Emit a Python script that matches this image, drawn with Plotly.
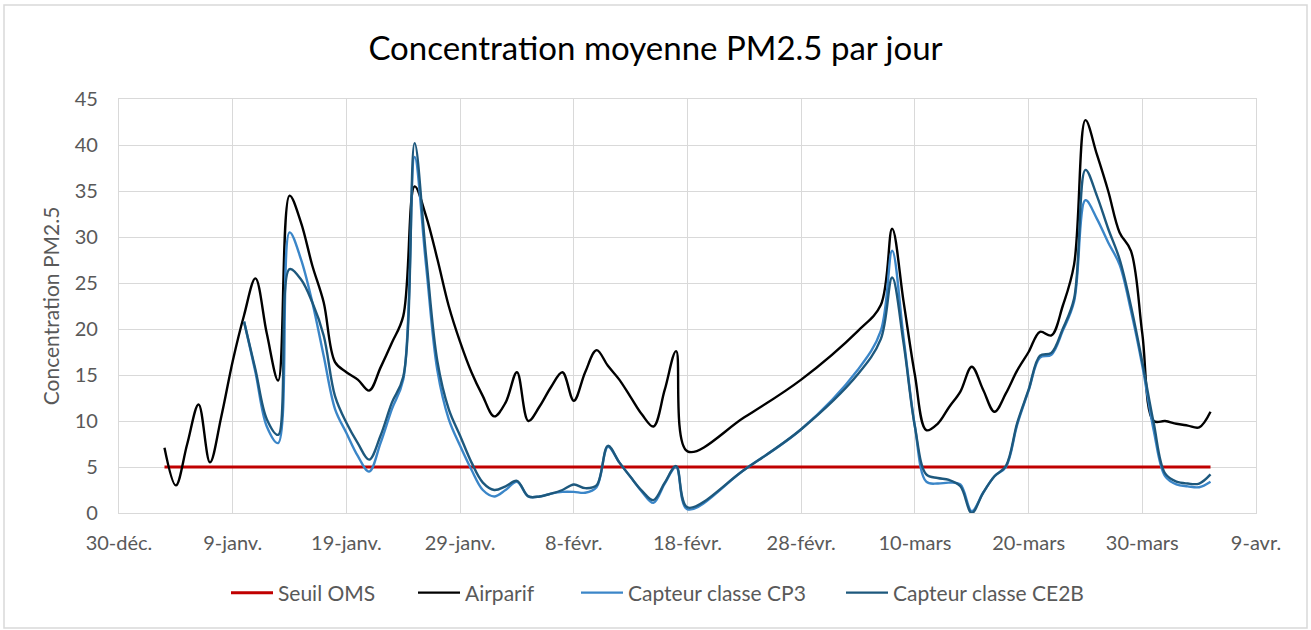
import pandas as pd
import plotly.graph_objects as go

# ---------------- data ----------------
start_date = "2020-12-30"

tick_dates = ["2020-12-30", "2021-01-09", "2021-01-19", "2021-01-29", "2021-02-08",
              "2021-02-18", "2021-02-28", "2021-03-10", "2021-03-20", "2021-03-30",
              "2021-04-09"]
tick_labels = ["30-déc.", "9-janv.", "19-janv.", "29-janv.", "8-févr.", "18-févr.",
               "28-févr.", "10-mars", "20-mars", "30-mars", "9-avr."]

# Seuil OMS (constant threshold)
seuil_days = [4, 96]
seuil_values = [5, 5]

# Airparif
airparif_days = [4, 5, 6, 7, 8, 9, 10, 11, 12, 13, 14, 15, 16, 17, 18, 19, 20, 21, 22, 23,
                 24, 25, 26, 27, 28, 29, 30, 31, 32, 33, 34, 35, 36, 37, 38, 39, 40, 41,
                 42, 43, 44, 45, 46, 47, 48, 49, 50, 55, 60, 65, 67, 68, 69, 70, 71, 72,
                 73, 74, 75, 76, 77, 78, 79, 80, 81, 82, 83, 84, 85, 86, 87, 88, 89, 90,
                 91, 92, 93, 94, 95, 96]
airparif_values = [7.1, 3.0, 7.5, 11.8, 5.5, 10.5, 16.5, 21.5, 25.5, 19.5, 14.4, 34.5,
                   31.6, 26.9, 22.9, 16.4, 15.3, 14.5, 13.3, 15.8, 18.5, 21.4, 35.5, 32.3,
                   27.6, 22.5, 18.6, 15.3, 12.7, 10.5, 12.0, 15.3, 10.0, 11.6, 13.7, 15.3,
                   12.2, 15.3, 17.7, 16.0, 14.5, 12.6, 10.7, 9.4, 13.4, 17.6, 6.7, 10.4,
                   14.5, 19.8, 22.6, 30.9, 23.0, 15.0, 9.0, 9.7, 11.5, 13.2, 15.9, 13.4,
                   11.0, 13.0, 15.5, 17.5, 19.7, 19.3, 22.5, 27.0, 42.7, 39.0, 35.0, 30.5,
                   28.5, 19.5, 10.0, 10.0, 9.7, 9.5, 9.3, 11.0]

# Capteurs (same dates for both sensors)
capteur_days = [11, 12, 13, 14, 15, 16, 17, 18, 19, 20, 21, 22, 23, 24, 25, 26, 27, 28,
                29, 30, 31, 32, 33, 34, 35, 36, 37, 38, 39, 40, 41, 42, 43, 44, 45, 46,
                47, 48, 49, 50, 55, 60, 65, 67, 68, 69, 70, 71, 72, 73, 74, 75, 76, 77,
                78, 79, 80, 81, 82, 83, 84, 85, 86, 87, 88, 89, 90, 91, 92, 93, 94, 95, 96]
cp3_values = [20.8, 15.3, 9.4, 7.6, 30.5, 27.6, 22.9, 17.1, 11.3, 8.7, 6.2, 4.5, 7.6,
              11.3, 14.5, 38.7, 27.0, 15.5, 10.2, 7.3, 4.7, 2.5, 1.8, 2.5, 3.4, 1.8, 1.8,
              2.1, 2.3, 2.3, 2.2, 2.8, 7.2, 5.5, 3.9, 2.3, 1.1, 3.2, 5.0, 0.4, 4.7, 9.1,
              15.6, 19.8, 28.5, 19.1, 9.4, 3.4, 3.2, 3.3, 3.1, 0.2, 2.2, 4.0, 5.0, 9.6,
              13.3, 16.9, 17.2, 19.8, 23.0, 34.0, 32.0, 29.4, 27.0, 22.0, 16.0, 9.0, 4.0,
              3.1, 2.9, 2.8, 3.4]
ce2b_values = [20.8, 15.6, 10.2, 8.5, 26.5, 25.4, 22.9, 19.3, 12.7, 9.8, 7.6, 5.8, 8.4,
               12.0, 14.8, 40.2, 28.0, 16.5, 11.3, 8.4, 5.5, 3.3, 2.5, 2.9, 3.5, 1.8, 1.8,
               2.1, 2.5, 3.1, 2.7, 3.0, 7.3, 5.5, 3.9, 2.4, 1.4, 3.3, 5.1, 0.6, 4.7, 9.1,
               15.1, 18.9, 25.6, 18.5, 9.4, 4.2, 3.8, 3.6, 2.9, 0.0, 2.2, 4.0, 5.1, 9.8,
               13.4, 17.1, 17.4, 20.0, 23.3, 37.3, 34.5, 30.9, 27.6, 22.5, 16.4, 9.8, 4.3,
               3.4, 3.2, 3.2, 4.2]


def to_dates(days):
    return pd.Timestamp(start_date) + pd.to_timedelta(days, unit="D")


FONT = "Lato, 'Open Sans', sans-serif"
GREY_TXT = "#595959"
GRID = "#d9d9d9"

# plot-area geometry in page pixels
L, R, T, B = 119, 1256, 99, 513
PW, PH = R - L, B - T


def px_x(p):
    return (p - L) / PW


def px_y(p):
    return (B - p) / PH


fig = go.Figure()
fig.add_trace(go.Scatter(x=to_dates(seuil_days), y=seuil_values, name="Seuil OMS",
                         mode="lines", line=dict(color="#c00000", width=3),
                         legend="legend"))
fig.add_trace(go.Scatter(x=to_dates(airparif_days), y=airparif_values, name="Airparif",
                         mode="lines", line=dict(color="#000000", width=2.4,
                                                 shape="spline", smoothing=1),
                         legend="legend2"))
fig.add_trace(go.Scatter(x=to_dates(capteur_days), y=cp3_values, name="Capteur classe CP3",
                         mode="lines", line=dict(color="#3b86c8", width=2.4,
                                                 shape="spline", smoothing=1),
                         legend="legend3"))
fig.add_trace(go.Scatter(x=to_dates(capteur_days), y=ce2b_values, name="Capteur classe CE2B",
                         mode="lines", line=dict(color="#1d587d", width=2.4,
                                                 shape="spline", smoothing=1),
                         legend="legend4"))

legend_starts = [233, 420, 583, 848]


def legend_cfg(start):
    return dict(orientation="h", x=px_x(start - 7), xanchor="left",
                y=px_y(593), yanchor="middle", itemwidth=42,
                font=dict(family=FONT, size=21, color=GREY_TXT),
                bgcolor="rgba(0,0,0,0)")


fig.update_layout(
    width=1311, height=630,
    margin=dict(l=L, r=1311 - R, t=T, b=630 - B, autoexpand=False),
    paper_bgcolor="white", plot_bgcolor="white",
    font=dict(family=FONT, size=20, color=GREY_TXT),
    title=dict(text="Concentration moyenne PM2.5 par jour", x=0.5, xanchor="center",
               xref="container", y=1 - 48 / 630, yanchor="middle",
               font=dict(family=FONT, size=33, color="#000000")),
    showlegend=True,
    legend=legend_cfg(legend_starts[0]),
    legend2=legend_cfg(legend_starts[1]),
    legend3=legend_cfg(legend_starts[2]),
    legend4=legend_cfg(legend_starts[3]),
    shapes=[dict(type="rect", xref="paper", yref="paper",
                 x0=px_x(4), x1=px_x(1307), y0=px_y(628), y1=px_y(5),
                 line=dict(color=GRID, width=1.5), fillcolor="rgba(0,0,0,0)", layer="below")],
)

fig.update_xaxes(
    type="date", range=[tick_dates[0], tick_dates[-1]],
    tickvals=tick_dates, ticktext=tick_labels,
    showgrid=True, gridcolor=GRID, gridwidth=1.3,
    showline=True, linecolor=GRID, linewidth=1.3, mirror=True,
    ticks="", ticklabelstandoff=12, tickfont=dict(size=20, color=GREY_TXT),
    zeroline=False, automargin=False,
)
fig.update_yaxes(
    range=[0, 45], dtick=5, tick0=0,
    showgrid=True, gridcolor=GRID, gridwidth=1.3,
    showline=True, linecolor=GRID, linewidth=1.3, mirror=True,
    ticks="", ticklabelstandoff=16, tickfont=dict(size=20, color=GREY_TXT),
    zeroline=False, automargin=False,
    title=dict(text="Concentration PM2.5", standoff=9,
               font=dict(family=FONT, size=21, color=GREY_TXT)),
)

fig.write_html("out.html", config={"displayModeBar": False},
               post_script="document.body.style.margin='0px';")
